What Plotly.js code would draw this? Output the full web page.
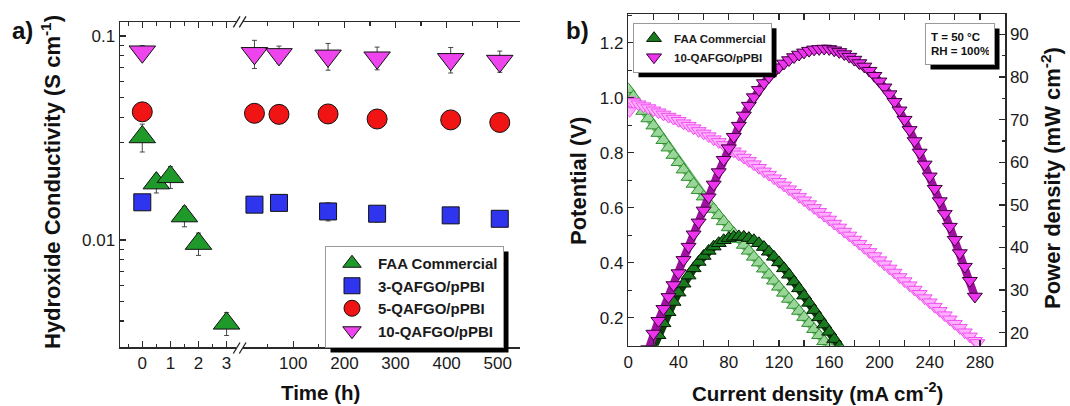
<!DOCTYPE html>
<html>
<head>
<meta charset="utf-8">
<script src="https://cdn.plot.ly/plotly-3.0.1.min.js"></script>
<style>html,body{margin:0;padding:0;background:#fff;}#chart{width:1070px;height:406px;}</style>
</head>
<body>
<div id="chart"></div>
<script>
// ---------- Panel a data: hydroxide conductivity (S cm-1) vs time (h) ----------
const faaTimes = [0, 0.5, 1, 1.5, 2, 3];
const faaCond = [0.032, 0.019, 0.0204, 0.0131, 0.0096, 0.0039];
const faaErr = [0.005, 0.002, 0.0025, 0.0015, 0.0012, 0.0005];

const qTimes = [0, 24, 72, 168, 264, 408, 504];
const q3Cond = [0.0153, 0.0149, 0.0152, 0.0138, 0.01345, 0.0132, 0.0127];
const q3Err = [0.0012, 0.001, 0.0012, 0.0014, 0.0012, 0.0011, 0.001];
const q5Cond = [0.0425, 0.0418, 0.0413, 0.0415, 0.0392, 0.0388, 0.0377];
const q5Err = [0.003, 0.003, 0.003, 0.003, 0.0025, 0.003, 0.0025];
const q10Cond = [0.0838, 0.0823, 0.0813, 0.0800, 0.0783, 0.0769, 0.0754];
const q10Err = [0.006, 0.013, 0.008, 0.012, 0.010, 0.011, 0.009];

const condTickVals = [0.01, 0.1];
const condTickText = ['0.01', '0.1'];
const condMinorVals = [0.003, 0.004, 0.005, 0.006, 0.007, 0.008, 0.009, 0.02, 0.03, 0.04, 0.05, 0.06, 0.07, 0.08, 0.09];
const shortTickVals = [0, 1, 2, 3];
const shortMinorVals = [-0.5, 0.5, 1.5, 2.5];
const longTickVals = [100, 200, 300, 400, 500];
const longMinorVals = [50, 150, 250, 350, 450];

// ---------- Panel b data: polarization and power density ----------
const faaVCur = [0,4,8,12,16,20,24,28,32,36,40,44,48,52,56,60,64,68,72,76,80,84,88,92,96,100,104,108,112,116,120,124,128,132,136,140,144,148,152,156,160];
const faaV = [1.030,1.004,0.977,0.951,0.924,0.898,0.871,0.845,0.818,0.791,0.765,0.738,0.711,0.686,0.663,0.640,0.618,0.595,0.572,0.550,0.528,0.507,0.486,0.464,0.443,0.421,0.400,0.378,0.356,0.334,0.312,0.290,0.268,0.246,0.224,0.202,0.180,0.158,0.136,0.114,0.092];
const faaPCur = [20,24,28,32,36,40,44,48,52,56,60,64,68,72,76,80,84,88,92,96,100,104,108,112,116,120,124,128,132,136,140,144,148,152,156,160,164,168];
const faaP = [16.5,19.4,22.2,24.8,27.2,29.4,31.5,33.4,35.1,36.6,38.0,39.2,40.2,41.0,41.7,42.2,42.5,42.6,42.5,42.2,41.7,41.0,40.1,39.0,37.8,36.5,35.1,33.6,32.0,30.4,28.7,27.0,25.3,23.6,21.9,20.2,18.5,16.8];

const qVCur = [0,1,2,4,8,12,16,20,24,28,32,36,40,44,48,52,56,60,64,68,72,76,80,84,88,92,96,100,104,108,112,116,120,124,128,132,136,140,144,148,152,156,160,164,168,172,176,180,184,188,192,196,200,204,208,212,216,220,224,228,232,236,240,244,248,252,256,260,264,268,272,276,278];
const qV = [0.990,0.952,0.985,0.983,0.976,0.969,0.962,0.954,0.947,0.939,0.931,0.924,0.916,0.907,0.898,0.889,0.879,0.870,0.860,0.849,0.839,0.828,0.817,0.805,0.794,0.782,0.770,0.758,0.745,0.732,0.720,0.707,0.694,0.681,0.667,0.654,0.640,0.627,0.613,0.599,0.585,0.571,0.557,0.542,0.528,0.513,0.499,0.484,0.469,0.454,0.439,0.424,0.409,0.394,0.379,0.364,0.348,0.333,0.318,0.302,0.287,0.271,0.256,0.240,0.225,0.209,0.194,0.178,0.163,0.147,0.132,0.116,0.108];
const qPCur = [12,16,20,24,28,32,36,40,44,48,52,56,60,64,68,72,76,80,84,88,92,96,100,104,108,112,116,120,124,128,132,136,140,144,148,152,156,160,164,168,172,176,180,184,188,192,196,200,204,208,212,216,220,224,228,232,236,240,244,248,252,256,260,264,268,272,276];
const qP = [12.5,16.2,19.8,22.8,25.6,28.4,31.2,34.0,37.1,40.2,43.1,45.9,48.7,51.8,54.8,57.7,60.6,63.3,66.0,68.6,71.0,73.3,75.3,77.0,78.6,80.0,81.3,82.3,83.2,84.0,84.7,85.3,85.8,86.2,86.5,86.6,86.7,86.6,86.3,85.9,85.4,84.8,84.1,83.3,82.5,81.5,80.3,79.0,77.6,76.0,74.2,72.2,70.0,67.6,65.0,62.3,59.5,56.7,53.8,50.9,47.9,44.9,41.8,38.7,35.5,32.2,28.5];

const seriesNames = ['FAA Commercial', '3-QAFGO/pPBI', '5-QAFGO/pPBI', '10-QAFGO/pPBI'];
const conditionsText = 'T = 50 °C<br>RH = 100%';

// ---------- helpers ----------
const FONT = 'Liberation Sans, Arial, Helvetica, sans-serif';
const W = 1070, H = 406;
const px = v => v / W;
const py = v => 1 - v / H;
const EDGE = '#111';

function split(times, vals, errs, shortSide) {
  const t = [], v = [], e = [];
  times.forEach((tt, i) => {
    if ((tt <= 3) === shortSide) { t.push(tt); v.push(vals[i]); e.push(errs[i]); }
  });
  return {t, v, e};
}

function condTrace(name, times, vals, errs, shortSide, symbol, size, color, showLegend) {
  const s = split(times, vals, errs, shortSide);
  return {
    type: 'scatter', mode: 'markers', name: name, legendgroup: name, showlegend: showLegend,
    legend: 'legend',
    x: s.t, y: s.v,
    xaxis: shortSide ? 'x' : 'x2', yaxis: 'y',
    error_y: {type: 'data', array: s.e, visible: true, color: '#333', thickness: 0.9, width: 2.5},
    marker: {symbol: symbol, size: size, color: color, line: {color: EDGE, width: 1}},
    cliponaxis: false
  };
}

const traces = [];
traces.push(condTrace(seriesNames[0], faaTimes, faaCond, faaErr, true, 'triangle-up', 23, '#1f9a2a', true));
traces.push(condTrace(seriesNames[1], qTimes, q3Cond, q3Err, true, 'square', 17, '#2f35ee', true));
traces.push(condTrace(seriesNames[2], qTimes, q5Cond, q5Err, true, 'circle', 20, '#f01414', true));
traces.push(condTrace(seriesNames[3], qTimes, q10Cond, q10Err, true, 'triangle-down', 23, '#ee44ee', true));
traces.push(condTrace(seriesNames[1], qTimes, q3Cond, q3Err, false, 'square', 17, '#2f35ee', false));
traces.push(condTrace(seriesNames[2], qTimes, q5Cond, q5Err, false, 'circle', 20, '#f01414', false));
traces.push(condTrace(seriesNames[3], qTimes, q10Cond, q10Err, false, 'triangle-down', 23, '#ee44ee', false));

function ribbon(x, y, yaxis, symbol, fill, edge, band, name, showLegend) {
  return [
    {type: 'scatter', mode: 'lines', x: x, y: y, xaxis: 'x3', yaxis: yaxis, showlegend: false,
     line: {color: band, width: 8}, hoverinfo: 'skip'},
    {type: 'scatter', mode: 'markers', x: x, y: y, xaxis: 'x3', yaxis: yaxis, name: name,
     showlegend: showLegend, legend: 'legend2',
     marker: {symbol: symbol, size: 13, color: fill, line: {color: edge, width: 1}}}
  ];
}
traces.push(...ribbon(faaVCur, faaV, 'y2', 'triangle-up', '#9ad69a', '#2f8f2f', '#74c074', seriesNames[0], false));
traces.push(...ribbon(qVCur, qV, 'y2', 'triangle-down', '#ffb0ff', '#f050f0', '#ff8aff', seriesNames[3], false));
traces.push(...ribbon(faaPCur, faaP, 'y4', 'triangle-up', '#1a7a1f', '#041a04', '#0c3d0c', seriesNames[0], true));
traces.push(...ribbon(qPCur, qP, 'y4', 'triangle-down', '#ee33ee', '#3a003a', '#a010a0', seriesNames[3], true));

const axBase = {
  showline: true, linecolor: '#2a2a2a', linewidth: 1.5,
  ticks: 'inside', ticklen: 6, tickwidth: 1.3, tickcolor: '#2a2a2a',
  showgrid: false, zeroline: false, fixedrange: true,
  tickfont: {family: FONT, size: 17, color: '#1a1a1a'}
};
const minorBase = {ticks: 'inside', ticklen: 3.5, tickwidth: 1.2, tickcolor: '#2a2a2a', showgrid: false};

const yDomA = [1 - 347 / H, 1 - 22 / H];
const yRangeA = [-2.525, -0.931];
const yDomB = [1 - 345.7 / H, 1 - 14 / H];

const baseShapes = [
  // axis break marks
  {type: 'line', xref: 'paper', yref: 'paper', x0: px(236.3), x1: px(243), y0: py(21.7), y1: py(21.7), line: {color: '#fff', width: 4}, layer: 'above'},
  {type: 'line', xref: 'paper', yref: 'paper', x0: px(236.3), x1: px(243), y0: py(347), y1: py(347), line: {color: '#fff', width: 4}, layer: 'above'},
  {type: 'line', xref: 'paper', yref: 'paper', x0: px(233.3), x1: px(240), y0: py(27.3), y1: py(16.3), line: {color: '#222', width: 1.3}, layer: 'above'},
  {type: 'line', xref: 'paper', yref: 'paper', x0: px(239.3), x1: px(246), y0: py(27.3), y1: py(16.3), line: {color: '#222', width: 1.3}, layer: 'above'},
  {type: 'line', xref: 'paper', yref: 'paper', x0: px(233.3), x1: px(240), y0: py(353.5), y1: py(342.5), line: {color: '#222', width: 1.3}, layer: 'above'},
  {type: 'line', xref: 'paper', yref: 'paper', x0: px(239.3), x1: px(246), y0: py(353.5), y1: py(342.5), line: {color: '#222', width: 1.3}, layer: 'above'}
];

const layout = {
  width: W, height: H,
  margin: {l: 0, r: 0, t: 0, b: 0},
  paper_bgcolor: '#ffffff', plot_bgcolor: 'rgba(0,0,0,0)',
  font: {family: FONT, color: '#1a1a1a'},
  showlegend: true,
  xaxis: Object.assign({}, axBase, {
    domain: [px(120), px(240)], range: [-0.793, 3.477], anchor: 'y',
    tickmode: 'array', tickvals: shortTickVals, mirror: 'allticks',
    minor: Object.assign({}, minorBase, {tickmode: 'array', tickvals: shortMinorVals})
  }),
  xaxis2: Object.assign({}, axBase, {
    domain: [px(240), px(520)], range: [-4.3, 543.6], anchor: 'y',
    tickmode: 'array', tickvals: longTickVals, mirror: 'allticks',
    minor: Object.assign({}, minorBase, {tickmode: 'array', tickvals: longMinorVals})
  }),
  yaxis: Object.assign({}, axBase, {
    type: 'log', domain: yDomA, range: yRangeA, anchor: 'x',
    tickmode: 'array', tickvals: condTickVals, ticktext: condTickText,
    minor: Object.assign({}, minorBase, {tickmode: 'array', tickvals: condMinorVals})
  }),
  yaxis3: Object.assign({}, axBase, {
    type: 'log', overlaying: 'y', anchor: 'x2', side: 'right', range: yRangeA,
    tickmode: 'array', tickvals: condTickVals, ticktext: condTickText, showticklabels: false,
    minor: Object.assign({}, minorBase, {tickmode: 'array', tickvals: condMinorVals})
  }),
  xaxis3: Object.assign({}, axBase, {
    domain: [px(628.3), px(1005)], range: [0, 300], anchor: 'y2',
    tick0: 0, dtick: 40, mirror: 'allticks',
    minor: Object.assign({}, minorBase, {dtick: 20})
  }),
  yaxis2: Object.assign({}, axBase, {
    domain: yDomB, range: [0.098, 1.304], anchor: 'x3',
    tick0: 0, dtick: 0.2, tickformat: '.1f',
    minor: Object.assign({}, minorBase, {dtick: 0.1})
  }),
  yaxis4: Object.assign({}, axBase, {
    overlaying: 'y2', anchor: 'x3', side: 'right', range: [16.95, 94.8],
    tick0: 0, dtick: 10,
    minor: Object.assign({}, minorBase, {dtick: 5})
  }),
  legend: {
    x: px(325), y: py(246), xanchor: 'left', yanchor: 'top',
    bgcolor: '#ffffff', bordercolor: '#9a9a9a', borderwidth: 1,
    font: {family: FONT, size: 15, weight: 'bold', color: '#1a1a1a'},
    tracegroupgap: 0, itemsizing: 'trace', itemwidth: 42
  },
  legend2: {
    x: px(633), y: py(22.7), xanchor: 'left', yanchor: 'top',
    bgcolor: '#ffffff', bordercolor: '#9a9a9a', borderwidth: 1,
    font: {family: FONT, size: 11.5, weight: 'bold', color: '#1a1a1a'},
    tracegroupgap: 0, itemsizing: 'trace', itemwidth: 30
  },
  shapes: baseShapes,
  annotations: [
    {text: '<b>a)</b>', x: px(22), y: py(31), xref: 'paper', yref: 'paper', showarrow: false, xanchor: 'center', yanchor: 'middle', font: {family: FONT, size: 24, color: '#111'}},
    {text: '<b>b)</b>', x: px(577), y: py(30), xref: 'paper', yref: 'paper', showarrow: false, xanchor: 'center', yanchor: 'middle', font: {family: FONT, size: 24, color: '#111'}},
    {text: '<b>Time (h)</b>', x: px(320), y: py(392), xref: 'paper', yref: 'paper', showarrow: false, xanchor: 'center', yanchor: 'middle', font: {family: FONT, size: 20.5, color: '#111'}},
    {text: '<b>Current density (mA cm<sup>-2</sup>)</b>', x: px(817), y: py(392), xref: 'paper', yref: 'paper', showarrow: false, xanchor: 'center', yanchor: 'middle', font: {family: FONT, size: 20.5, color: '#111'}},
    {text: '<b>Hydroxide Conductivity (S cm<sup>-1</sup>)</b>', x: px(51), y: py(182), xref: 'paper', yref: 'paper', showarrow: false, textangle: -90, xanchor: 'center', yanchor: 'middle', font: {family: FONT, size: 22, color: '#111'}},
    {text: '<b>Potential (V)</b>', x: px(579), y: py(181), xref: 'paper', yref: 'paper', showarrow: false, textangle: -90, xanchor: 'center', yanchor: 'middle', font: {family: FONT, size: 22, color: '#111'}},
    {text: '<b>Power density (mW cm<sup>-2</sup>)</b>', x: px(1051), y: py(178), xref: 'paper', yref: 'paper', showarrow: false, textangle: -90, xanchor: 'center', yanchor: 'middle', font: {family: FONT, size: 22, color: '#111'}},
    {text: '<b>' + conditionsText + '</b>', x: px(925), y: py(22.7), xref: 'paper', yref: 'paper', showarrow: false, xanchor: 'left', yanchor: 'top', align: 'left',
     bgcolor: '#ffffff', bordercolor: '#9a9a9a', borderwidth: 1, borderpad: 5, width: 58, height: 30,
     font: {family: FONT, size: 11.5, color: '#111'}}
  ]
};

Plotly.newPlot('chart', traces, layout, {staticPlot: true, displayModeBar: false}).then(function (gd) {
  // drop shadows sized to the boxes that Plotly actually drew
  const root = gd.getBoundingClientRect();
  const boxes = [];
  function addBox(el) {
    if (!el) return;
    const r = el.getBoundingClientRect();
    boxes.push({x0: r.left - root.left, x1: r.right - root.left, y0: r.top - root.top, y1: r.bottom - root.top});
  }
  addBox(gd.querySelector('g.legend rect.bg'));
  addBox(gd.querySelector('g.legend2 rect.bg'));
  gd.querySelectorAll('g.annotation').forEach(function (g) {
    if (g.textContent.indexOf('RH') >= 0) addBox(g.querySelector('rect.bg'));
  });
  const off = 5;
  const shadows = boxes.map(function (b) {
    return {type: 'rect', xref: 'paper', yref: 'paper', x0: px(b.x0 + off), x1: px(b.x1 + off), y0: py(b.y1 + off), y1: py(b.y0 + off),
            fillcolor: '#000', line: {width: 0}, layer: 'above'};
  });
  return Plotly.relayout(gd, {shapes: baseShapes.concat(shadows)});
});
</script>
</body>
</html>
